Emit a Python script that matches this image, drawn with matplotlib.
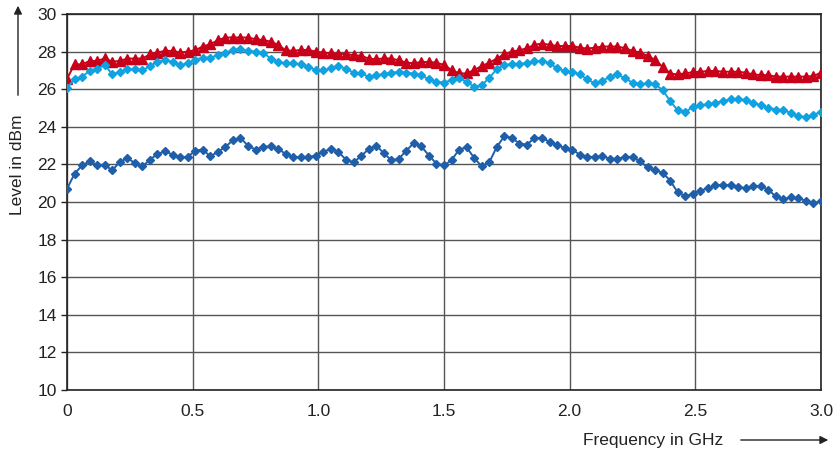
import numpy as np
import matplotlib
matplotlib.use("Agg")
import matplotlib.pyplot as plt

plt.rcParams['font.family'] = ['Liberation Sans Narrow', 'Liberation Sans', 'DejaVu Sans']

# frequency grid, 101 points 0..3 GHz
freq = np.linspace(0, 3.0, 101)

level_red = [
    26.56, 27.32, 27.32, 27.50, 27.50, 27.64, 27.47, 27.50, 27.63, 27.63,
    27.63, 27.86, 27.95, 28.04, 28.04, 27.95, 28.00, 28.07, 28.27, 28.39,
    28.60, 28.75, 28.75, 28.75, 28.75, 28.66, 28.62, 28.53, 28.36, 28.07,
    28.04, 28.09, 28.09, 28.00, 27.95, 27.91, 27.86, 27.89, 27.80, 27.78,
    27.63, 27.59, 27.64, 27.63, 27.54, 27.41, 27.38, 27.45, 27.45, 27.41,
    27.29, 27.02, 26.84, 26.84, 27.02, 27.23, 27.41, 27.63, 27.86, 28.00,
    28.07, 28.18, 28.36, 28.43, 28.36, 28.30, 28.30, 28.30, 28.21, 28.16,
    28.21, 28.27, 28.27, 28.27, 28.18, 28.04, 27.95, 27.77, 27.56, 27.18,
    26.83, 26.79, 26.84, 26.91, 26.93, 26.97, 26.97, 26.93, 26.93, 26.93,
    26.88, 26.79, 26.75, 26.75, 26.67, 26.67, 26.67, 26.67, 26.67, 26.70,
    26.88,
]

level_cyan = [
    26.08, 26.52, 26.67, 26.97, 27.09, 27.29, 26.79, 26.93, 27.06, 27.06,
    27.00, 27.23, 27.47, 27.54, 27.45, 27.27, 27.38, 27.56, 27.68, 27.68,
    27.80, 27.95, 28.09, 28.12, 28.04, 28.00, 27.95, 27.63, 27.45, 27.38,
    27.38, 27.32, 27.20, 27.02, 27.00, 27.11, 27.23, 27.09, 26.88, 26.84,
    26.67, 26.74, 26.79, 26.88, 26.91, 26.88, 26.83, 26.74, 26.52, 26.40,
    26.35, 26.49, 26.58, 26.40, 26.13, 26.20, 26.61, 27.06, 27.29, 27.34,
    27.32, 27.41, 27.50, 27.50, 27.38, 27.11, 26.97, 26.91, 26.79, 26.52,
    26.31, 26.43, 26.67, 26.79, 26.58, 26.35, 26.26, 26.31, 26.26, 25.95,
    25.37, 24.87, 24.78, 25.06, 25.14, 25.19, 25.28, 25.37, 25.46, 25.49,
    25.42, 25.28, 25.14, 25.01, 24.92, 24.89, 24.74, 24.57, 24.51, 24.65,
    24.78,
]

level_blue = [
    20.70, 21.50, 21.95, 22.16, 21.95, 21.98, 21.68, 22.13, 22.34, 22.07,
    21.90, 22.25, 22.55, 22.70, 22.52, 22.38, 22.40, 22.73, 22.79, 22.43,
    22.66, 22.93, 23.28, 23.41, 23.00, 22.79, 22.93, 22.96, 22.82, 22.56,
    22.38, 22.38, 22.39, 22.47, 22.66, 22.84, 22.66, 22.25, 22.11, 22.43,
    22.82, 23.00, 22.61, 22.22, 22.29, 22.73, 23.14, 22.96, 22.47, 22.04,
    21.95, 22.22, 22.79, 22.91, 22.34, 21.90, 22.11, 22.93, 23.50, 23.41,
    23.11, 23.05, 23.41, 23.41, 23.20, 23.02, 22.88, 22.79, 22.52, 22.40,
    22.40, 22.43, 22.31, 22.29, 22.40, 22.40, 22.16, 21.84, 21.68, 21.56,
    21.13, 20.51, 20.30, 20.44, 20.60, 20.74, 20.88, 20.92, 20.88, 20.79,
    20.74, 20.83, 20.86, 20.65, 20.30, 20.17, 20.24, 20.21, 20.06, 19.94,
    20.03,
]

xticks = [0, 0.5, 1.0, 1.5, 2.0, 2.5, 3.0]
xtick_labels = ['0', '0.5', '1.0', '1.5', '2.0', '2.5', '3.0']
yticks = list(range(10, 31, 2))

fig = plt.figure(figsize=(8.33, 4.54), dpi=100)
ax = fig.add_axes([67 / 833, 1 - 390 / 454, 754 / 833, 376 / 454])

ax.plot(freq, level_red, color='#c8001a', marker='^', markersize=6.5, lw=1.4, zorder=3)
ax.plot(freq, level_cyan, color='#10a2e0', marker='D', markersize=4.5, lw=1.4, zorder=3)
ax.plot(freq, level_blue, color='#1f5ea8', marker='D', markersize=4.5, lw=1.4, zorder=3)

ax.set_xlim(0, 3.0)
ax.set_ylim(10, 30)
ax.set_xticks(xticks)
ax.set_xticklabels(xtick_labels)
ax.set_yticks(yticks)
ax.grid(True, color='#555555', lw=1.0)
ax.set_axisbelow(True)
ax.tick_params(axis='both', labelsize=12.5, colors='#222222', length=4, width=1)
ax.tick_params(axis='x', length=0, pad=10)
for s in ax.spines.values():
    s.set_color('#222222')
    s.set_linewidth(1.2)

# axis labels with arrows
fig.text(18 / 833, 1 - 165 / 454, 'Level in dBm', rotation=90, ha='center', va='center',
         fontsize=12.5, color='#222222')
fig.add_artist(matplotlib.patches.FancyArrowPatch(
    (18 / 833, 1 - 98 / 454), (18 / 833, 1 - 3 / 454), transform=fig.transFigure,
    arrowstyle='-|>', mutation_scale=12, color='#222222', lw=1))
fig.text(723 / 833, 1 - 440 / 454, 'Frequency in GHz', ha='right', va='center',
         fontsize=12.5, color='#222222')
fig.add_artist(matplotlib.patches.FancyArrowPatch(
    (738 / 833, 1 - 440 / 454), (831 / 833, 1 - 440 / 454), transform=fig.transFigure,
    arrowstyle='-|>', mutation_scale=12, color='#222222', lw=1))

fig.savefig('out.png', dpi=100)
